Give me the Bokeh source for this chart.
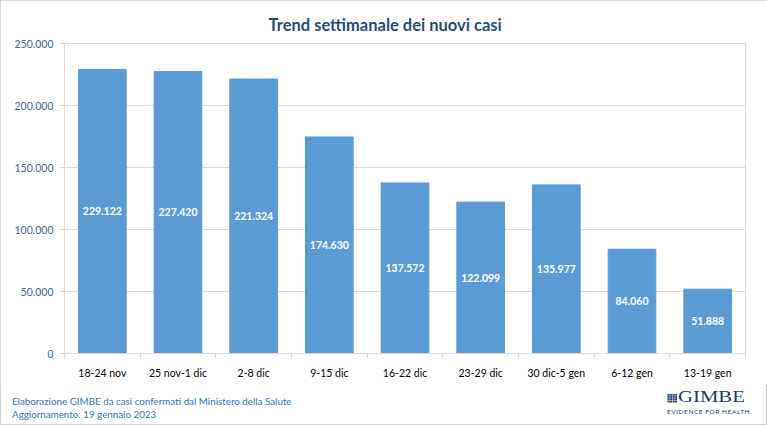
from bokeh.plotting import figure
from bokeh.layouts import column
from bokeh.models import ColumnDataSource, FixedTicker, Range1d, Div
from bokeh.embed import file_html
from bokeh.resources import INLINE

weeks = ["18-24 nov", "25 nov-1 dic", "2-8 dic", "9-15 dic", "16-22 dic",
         "23-29 dic", "30 dic-5 gen", "6-12 gen", "13-19 gen"]
cases = [229122, 227420, 221324, 174630, 137572, 122099, 135977, 84060, 51888]
y_ticks = [0, 50000, 100000, 150000, 200000, 250000]

title_text = "Trend settimanale dei nuovi casi"
source_text = "Elaborazione GIMBE da casi confermati dal Ministero della Salute"
update_text = "Aggiornamento: 19 gennaio 2023"


def it_fmt(v):
    return f"{v:,}".replace(",", ".")


FONT = "Lato"
BAR = "#5B9BD5"
GRID = "#D9D9D9"
NAVY = "#1F3A6E"
W = 767
FIG_H, FOOT_H = 385, 40

xs = [i + 0.5 for i in range(len(weeks))]
src = ColumnDataSource(dict(
    x=xs, top=cases, mid=[c / 2 for c in cases],
    lbl=[it_fmt(c) for c in cases],
))

p = figure(width=W, height=FIG_H, output_backend="svg", toolbar_location=None,
           x_range=Range1d(0, len(weeks)), y_range=Range1d(0, 250000),
           min_border_left=64, min_border_right=22, min_border_top=43,
           min_border_bottom=FIG_H - 353)
p.background_fill_color = "white"
p.border_fill_color = "white"
p.outline_line_color = GRID

p.title.text = title_text
p.title.align = "left"
p.title.offset = 204
p.title.standoff = 18
p.title.text_font = FONT
p.title.text_font_style = "bold"
p.title.text_font_size = "16.5px"
p.title.text_color = "#1F4E79"

p.vbar(x="x", top="top", width=0.63, source=src, color=BAR)
p.text(x="x", y="mid", text="lbl", source=src, text_align="center",
       text_baseline="middle", text_color="white", text_font_size="10.5px",
       text_font_style="bold", text_font={"value": FONT})

# x axis: labels centred under bars, tick marks between categories
p.xaxis.ticker = FixedTicker(ticks=xs, minor_ticks=list(range(len(weeks) + 1)))
p.xaxis.major_label_overrides = {x: w for x, w in zip(xs, weeks)}
p.xaxis.major_tick_out = 0
p.xaxis.major_tick_in = 0
p.xaxis.minor_tick_out = 5
p.xaxis.minor_tick_in = 0
p.xaxis.minor_tick_line_color = GRID
p.xaxis.axis_line_color = GRID
p.xaxis.major_label_text_font = FONT
p.xaxis.major_label_text_font_size = "10.5px"
p.xaxis.major_label_text_color = "#000000"
p.xaxis.major_label_standoff = 8
p.xgrid.visible = False

p.yaxis.ticker = FixedTicker(ticks=y_ticks)
p.yaxis.major_label_overrides = {t: it_fmt(t) for t in y_ticks}
p.yaxis.major_tick_out = 5
p.yaxis.major_tick_in = 0
p.yaxis.minor_tick_out = 0
p.yaxis.minor_tick_in = 0
p.yaxis.major_tick_line_color = GRID
p.yaxis.axis_line_color = GRID
p.yaxis.major_label_text_font = FONT
p.yaxis.major_label_text_font_size = "10.5px"
p.yaxis.major_label_text_color = "#44648C"
p.yaxis.major_label_standoff = 6
p.ygrid.grid_line_color = GRID

# footer: source note on the left, GIMBE logo on the right
footer_html = f"""
<div style="position:relative;width:{W}px;height:{FOOT_H}px;font-family:Lato,sans-serif;">
  <div style="position:absolute;left:12px;top:10px;font-size:9.8px;line-height:13px;
              color:#2E75B6;white-space:nowrap;">
    {source_text}<br>{update_text}
  </div>
  <div style="position:absolute;left:667px;top:9px;width:10px;height:9px;background:{NAVY};
              background-image:linear-gradient(90deg, rgba(255,255,255,0.55) 1px, transparent 1px),
              linear-gradient(0deg, rgba(255,255,255,0.55) 1px, transparent 1px);
              background-size:2.5px 2.25px;"></div>
  <div style="position:absolute;left:678px;top:2px;font-family:'Liberation Serif',serif;
              font-size:17px;line-height:20px;color:{NAVY};transform:scaleX(1.22);
              transform-origin:left center;white-space:nowrap;">GIMBE</div>
  <div style="position:absolute;left:667px;top:23px;font-size:6.5px;line-height:8px;
              letter-spacing:0.55px;color:{NAVY};white-space:nowrap;">EVIDENCE FOR HEALTH</div>
</div>
"""
footer = Div(text=footer_html, width=W, height=FOOT_H,
             styles={"margin": "0", "padding": "0"})

layout = column(p, footer, spacing=0, width=W, height=FIG_H + FOOT_H,
                styles={"outline": "1px solid #D0D0D0", "outline-offset": "-1px"})

open("out.html", "w").write(file_html(layout, INLINE))
